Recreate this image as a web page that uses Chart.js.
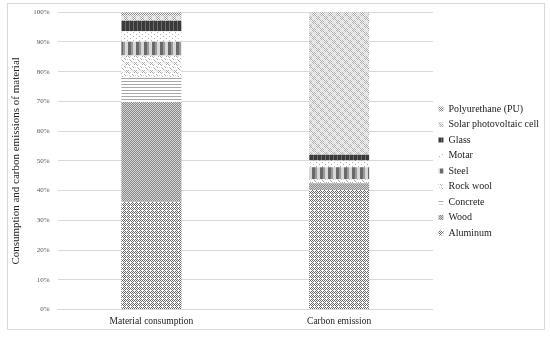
<!DOCTYPE html>
<html lang="en">
<head>
    <meta charset="UTF-8">
    <title>Material consumption and carbon emission</title>
    <script src="https://cdn.jsdelivr.net/npm/chart.js@4.4.1/dist/chart.umd.min.js"></script>
    <style>
        body { margin: 0; background: #fff; }
        #wrap { position: relative; width: 550px; height: 337px; }
        #frame {
            position: absolute; left: 7px; top: 3px; width: 538px; height: 327px;
            border: 1px solid #d9d9d9; box-sizing: border-box; pointer-events: none;
        }
    </style>
</head>
<body>
    <div id="wrap">
        <canvas id="chart" width="550" height="337"></canvas>
        <div id="frame"></div>
    </div>

    <script>
        // data (percent of each bar)
        const categories = ['Material consumption', 'Carbon emission'];
        const aluminum = [36.3, 40.2];
        const wood = [33.5, 2.0];
        const concrete = [8.4, 0.3];
        const rockWool = [7.2, 1.3];
        const steel = [4.7, 4.1];
        const motar = [3.5, 2.2];
        const glass = [3.5, 2.0];
        const solar = [1.7, 47.7];
        const pu = [1.2, 0.2];
        const yTicks = [0, 10, 20, 30, 40, 50, 60, 70, 80, 90, 100];

        // small repeating fill patterns, like the excel hatch fills
        function makePattern(w, h, draw) {
            const c = document.createElement('canvas');
            c.width = w; c.height = h;
            const g = c.getContext('2d');
            draw(g);
            return g.createPattern(c, 'repeat');
        }
        function px(g, col, pts) {
            g.fillStyle = col;
            pts.forEach(p => g.fillRect(p[0], p[1], 1, 1));
        }

        const fills = {
            aluminum: makePattern(4, 4, g => {
                g.fillStyle = '#fff'; g.fillRect(0, 0, 4, 4);
                px(g, '#6a6a6a', [[0, 0], [2, 0], [1, 1], [3, 1], [0, 2], [1, 3], [3, 3]]);
            }),
            wood: makePattern(4, 4, g => {
                g.fillStyle = '#d4d4d4'; g.fillRect(0, 0, 4, 4);
                px(g, '#8a8a8a', [[0, 3], [1, 2], [2, 1], [3, 0], [0, 1], [1, 0], [2, 3], [3, 2]]);
            }),
            concrete: makePattern(4, 3, g => {
                g.fillStyle = '#fff'; g.fillRect(0, 0, 4, 3);
                g.fillStyle = '#a8a8a8'; g.fillRect(0, 0, 4, 1);
            }),
            rockWool: makePattern(8, 8, g => {
                g.fillStyle = '#fff'; g.fillRect(0, 0, 8, 8);
                px(g, '#aaa', [[0, 0], [1, 1], [4, 2], [5, 3], [2, 4], [3, 5], [6, 6], [7, 7], [6, 0], [0, 6]]);
                px(g, '#d0d0d0', [[2, 0], [7, 3], [4, 6], [1, 3], [5, 7]]);
            }),
            steel: makePattern(8, 4, g => {
                g.fillStyle = '#d8d8d8'; g.fillRect(0, 0, 8, 4);
                g.fillStyle = '#6a6a6a'; g.fillRect(0, 0, 3, 4);
                g.fillStyle = '#9a9a9a'; g.fillRect(3, 0, 2, 4);
            }),
            motar: makePattern(6, 4, g => {
                g.fillStyle = '#fff'; g.fillRect(0, 0, 6, 4);
                px(g, '#b0b0b0', [[1, 0], [4, 2]]);
            }),
            glass: makePattern(4, 3, g => {
                g.fillStyle = '#3a3a3a'; g.fillRect(0, 0, 4, 3);
                g.fillStyle = '#6a6a6a'; g.fillRect(1, 0, 1, 3);
            }),
            solar: makePattern(8, 8, g => {
                g.fillStyle = '#f4f4f4'; g.fillRect(0, 0, 8, 8);
                for (let y = 0; y < 8; y++) {
                    for (let x = 0; x < 8; x++) {
                        if ((x + y) % 2 === 0 && (x < 4) !== (y < 4)) px(g, '#a8a8a8', [[x, y]]);
                        else if ((x + y) % 2 === 0) px(g, '#d6d6d6', [[x, y]]);
                    }
                }
            }),
            pu: makePattern(2, 2, g => {
                g.fillStyle = '#fff'; g.fillRect(0, 0, 2, 2);
                px(g, '#888', [[0, 0], [1, 1]]);
            })
        };

        const serif = '"Liberation Serif", "Times New Roman", serif';

        const series = [
            { label: 'Aluminum', data: aluminum, fill: fills.aluminum },
            { label: 'Wood', data: wood, fill: fills.wood },
            { label: 'Concrete', data: concrete, fill: fills.concrete },
            { label: 'Rock wool', data: rockWool, fill: fills.rockWool },
            { label: 'Steel', data: steel, fill: fills.steel },
            { label: 'Motar', data: motar, fill: fills.motar },
            { label: 'Glass', data: glass, fill: fills.glass },
            { label: 'Solar photovoltaic cell', data: solar, fill: fills.solar },
            { label: 'Polyurethane (PU)', data: pu, fill: fills.pu }
        ];

        new Chart(document.getElementById('chart'), {
            type: 'bar',
            data: {
                labels: categories,
                datasets: series.map(s => ({
                    label: s.label,
                    data: s.data,
                    backgroundColor: s.fill,
                    borderWidth: 0,
                    categoryPercentage: 1,
                    barPercentage: 0.32
                }))
            },
            options: {
                responsive: false,
                animation: false,
                layout: { padding: { left: 10, top: 9, right: 1, bottom: 4 } },
                plugins: {
                    tooltip: { enabled: false },
                    legend: {
                        position: 'right',
                        reverse: true,
                        labels: {
                            boxWidth: 5,
                            boxHeight: 5,
                            padding: 5.5,
                            color: '#222',
                            font: { family: serif, size: 10 }
                        }
                    }
                },
                scales: {
                    x: {
                        stacked: true,
                        grid: { display: false, drawTicks: false },
                        border: { color: '#d9d9d9' },
                        ticks: { color: '#222', font: { family: serif, size: 9.5 }, padding: 6 }
                    },
                    y: {
                        stacked: true,
                        min: 0,
                        max: 100,
                        afterBuildTicks: axis => { axis.ticks = yTicks.map(v => ({ value: v })); },
                        grid: { color: '#d9d9d9', drawTicks: false },
                        border: { display: false },
                        ticks: {
                            color: '#555',
                            font: { family: serif, size: 7 },
                            padding: 8,
                            callback: v => v + '%'
                        },
                        title: {
                            display: true,
                            text: 'Consumption and carbon emissions of material',
                            color: '#222',
                            font: { family: serif, size: 11 },
                            padding: { top: 0, bottom: 2 }
                        }
                    }
                }
            }
        });
    </script>
</body>
</html>
